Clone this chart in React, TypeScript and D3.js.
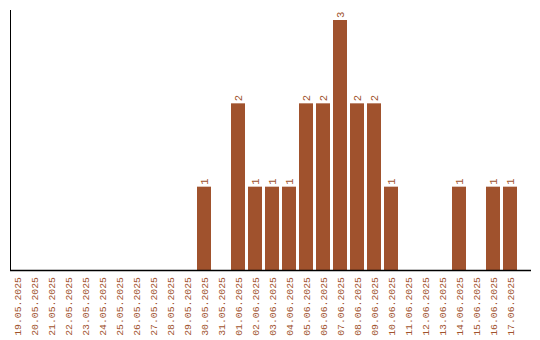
import React from "react";
import * as d3 from "d3";

const dates = [
  "19.05.2025","20.05.2025","21.05.2025","22.05.2025","23.05.2025","24.05.2025",
  "25.05.2025","26.05.2025","27.05.2025","28.05.2025","29.05.2025","30.05.2025",
  "31.05.2025","01.06.2025","02.06.2025","03.06.2025","04.06.2025","05.06.2025",
  "06.06.2025","07.06.2025","08.06.2025","09.06.2025","10.06.2025","11.06.2025",
  "12.06.2025","13.06.2025","14.06.2025","15.06.2025","16.06.2025","17.06.2025",
];
const counts = [0,0,0,0,0,0,0,0,0,0,0,1,0,2,1,1,1,2,2,3,2,2,1,0,0,0,1,0,1,1];

const W = 540, H = 340;
const color = "#A0522D";
const font = "'Liberation Mono', 'Courier New', monospace";

export default function App() {
  const x = d3.scaleBand<string>().domain(dates).range([10, 517]).paddingInner(3 / 17).paddingOuter(0);
  const y = d3.scaleLinear().domain([0, 3]).range([270, 20]);
  return (
    <svg width={W} height={H} style={{ position: "absolute", left: 0, top: 0, background: "#fff" }}>
      {dates.map((d, i) => counts[i] > 0 ? (
        <g key={d}>
          <rect x={x(d)} y={y(counts[i])} width={x.bandwidth()} height={y(0) - y(counts[i])} fill={color} />
          <text transform={`translate(${x(d)! + x.bandwidth() / 2},${y(counts[i]) - 2}) rotate(-90)`}
            dy="0.38em" fill={color} fontFamily={font} fontSize={10.5}>{counts[i]}</text>
        </g>
      ) : null)}
      <line x1={10.5} x2={10.5} y1={10} y2={270} stroke="#000" strokeWidth={1} />
      <line x1={10} x2={531} y1={270.5} y2={270.5} stroke="#000" strokeWidth={1.5} />
      {dates.map((d) => (
        <text key={"t" + d} transform={`translate(${x(d)! + x.bandwidth() / 2},277) rotate(-90)`}
          dy="0.38em" textAnchor="end" fill={color} fontFamily={font} fontSize={9.8}>{d}</text>
      ))}
    </svg>
  );
}
